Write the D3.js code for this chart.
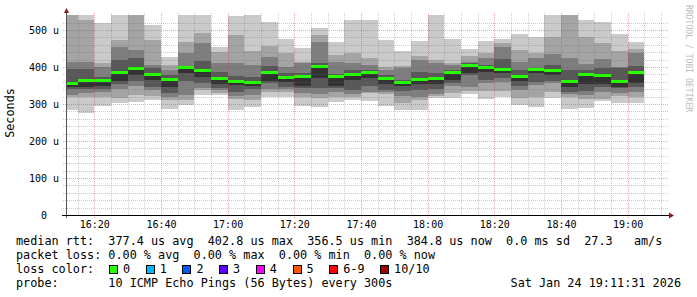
<!DOCTYPE html>
<html>
<head>
<meta charset="utf-8">
<script src="https://cdn.jsdelivr.net/npm/d3@7/dist/d3.min.js"></script>
<style>
  body { margin: 0; background: #fff; }
  svg text { font-family: "DejaVu Sans Mono", monospace; white-space: pre; fill: #000; }
</style>
</head>
<body>
<div class="graph"></div>
<script>
// start of each 5 minute bin
var binStarts = ["16:10","16:15","16:20","16:25","16:30","16:35","16:40","16:45","16:50","16:55",
  "17:00","17:05","17:10","17:15","17:20","17:25","17:30","17:35","17:40","17:45","17:50","17:55",
  "18:00","18:05","18:10","18:15","18:20","18:25","18:30","18:35","18:40","18:45","18:50","18:55",
  "19:00"];

// median rtt per bin (us)
var medians = [356.5, 363.5, 362.2, 385.7, 396.5, 378.4, 365.7, 398.1, 390.5, 368.9,
  361.6, 358.6, 385.9, 372.2, 373.0, 401.9, 373.8, 378.4, 383.8, 368.4, 358.6, 366.2,
  369.5, 385.9, 402.8, 399.2, 393.2, 373.0, 391.9, 389.2, 360.0, 379.2, 376.2, 361.6,
  384.8];

// the 10 sorted pings of each bin (us), used for the smoke
var smoke = [
  [283.8, 319.7, 324.3, 339.7, 345.1, 360.3, 394.6, 414.3, 550, 560],
  [276.5, 319.7, 329.7, 340.5, 345.1, 367.6, 394.6, 414.3, 527.0, 560],
  [294.6, 319.7, 332.4, 339.7, 348.6, 364.9, 372.2, 400.8, 410.0, 518.1],
  [302.7, 316.2, 340.5, 354.1, 363.0, 389.2, 418.9, 454.9, 473.0, 560],
  [306.2, 324.3, 348.6, 363.0, 378.4, 399.2, 423.5, 445.9, 550, 560],
  [310.8, 321.6, 337.8, 345.1, 364.9, 379.7, 396.5, 405.4, 473.0, 513.5],
  [287.3, 310.8, 318.9, 330.5, 345.1, 368.9, 378.4, 391.9, 405.4, 427.8],
  [298.1, 310.8, 324.3, 363.0, 384.6, 400.0, 402.7, 437.0, 468.4, 560],
  [324.3, 337.8, 343.2, 355.9, 373.8, 393.2, 416.2, 464.1, 491.1, 560],
  [324.3, 330.5, 337.8, 343.2, 354.1, 373.0, 386.5, 410.0, 441.4, 454.9],
  [283.8, 313.5, 321.6, 333.2, 351.4, 364.9, 375.7, 410.0, 486.5, 537.8],
  [292.7, 310.8, 324.3, 340.5, 348.6, 363.0, 373.8, 405.4, 443.2, 560],
  [319.7, 332.4, 339.7, 355.9, 363.0, 389.2, 402.7, 427.8, 456.8, 520.8],
  [319.7, 332.4, 340.5, 346.8, 360.3, 374.3, 383.8, 400.8, 437.0, 474.9],
  [294.6, 319.7, 329.7, 343.2, 348.6, 375.7, 383.0, 410.0, 414.3, 450.5],
  [291.1, 315.4, 327.0, 343.2, 369.5, 404.1, 410.0, 468.4, 486.5, 505.4],
  [306.2, 318.9, 332.4, 342.4, 348.6, 377.0, 381.1, 414.3, 432.4, 468.4],
  [310.8, 319.7, 327.0, 337.8, 364.9, 381.1, 391.9, 410.8, 437.0, 527.0],
  [308.9, 328.9, 333.2, 348.6, 369.5, 386.5, 391.9, 405.4, 423.5, 527.0],
  [294.6, 327.0, 332.4, 337.8, 354.1, 371.1, 378.4, 391.9, 400.8, 473.0],
  [283.8, 302.7, 321.6, 335.1, 348.6, 361.4, 364.9, 396.5, 402.7, 444.1],
  [283.8, 309.5, 318.9, 337.8, 354.1, 369.5, 387.3, 418.9, 428.9, 470.3],
  [315.4, 321.6, 327.0, 339.7, 354.1, 373.0, 383.0, 410.0, 418.9, 560],
  [317.0, 328.9, 348.6, 355.9, 364.1, 387.8, 391.9, 405.4, 410.0, 475.7],
  [327.0, 335.1, 345.1, 378.4, 383.0, 405.4, 409.5, 414.3, 429.7, 447.8],
  [314.3, 335.1, 356.8, 364.9, 387.3, 401.4, 405.4, 423.5, 437.8, 471.1],
  [318.9, 333.8, 360.3, 369.5, 384.6, 396.5, 420.8, 453.2, 464.1, 475.7],
  [297.3, 315.4, 337.8, 348.6, 363.0, 375.7, 391.9, 414.3, 445.1, 489.2],
  [293.2, 319.7, 351.4, 359.5, 383.0, 394.6, 398.1, 423.5, 437.8, 481.1],
  [315.4, 333.2, 355.9, 363.0, 379.7, 391.9, 404.1, 435.1, 479.7, 560],
  [285.7, 318.9, 327.0, 333.2, 345.9, 363.0, 392.7, 424.3, 550, 560],
  [290.0, 312.2, 324.3, 335.1, 354.1, 382.4, 391.9, 407.3, 481.9, 527.0],
  [306.8, 313.5, 333.2, 345.9, 354.1, 379.7, 396.5, 420.8, 465.7, 520.8],
  [303.5, 321.6, 330.5, 342.4, 345.9, 364.9, 397.3, 400.8, 443.2, 489.2],
  [301.9, 319.7, 333.2, 345.9, 355.9, 387.3, 402.7, 437.0, 447.8, 468.4]
];

var yTicks = [0, 100, 200, 300, 400, 500];
var yTickLabels = ["0  ", "100 u", "200 u", "300 u", "400 u", "500 u"];

var lossLabels = ["0", "1", "2", "3", "4", "5", "6-9", "10/10"];
var lossColors = ["#26ff00", "#00b8ff", "#0059ff", "#5e00ff", "#ff00ff", "#ff5500", "#ff0000", "#a10000"];

// smoke shades, outermost pair first
var smokeShades = ["#cacaca", "#a4a4a4", "#7e7e7e", "#585858", "#323232"];

var legendLines = [
  "median rtt:  377.4 us avg  402.8 us max  356.5 us min  384.8 us now  0.0 ms sd  27.3   am/s",
  "packet loss: 0.00 % avg  0.00 % max  0.00 % min  0.00 % now",
  "loss color:",
  "probe:       10 ICMP Echo Pings (56 Bytes) every 300s"
];
var stamp = "Sat Jan 24 19:11:31 2026";

graph();

function graph() {
  var W = 697, H = 297;
  var plot = {left: 66, right: 666, top: 15, bottom: 215};
  var charW = 7.1;

  var svg = d3.select(".graph")
    .append("svg")
    .attr("width", W)
    .attr("height", H);

  svg.append("rect").attr("width", W).attr("height", H).attr("fill", "#fff");

  var parse = d3.timeParse("%Y-%m-%d %H:%M:%S");
  var day = "2026-01-24 ";
  var t0 = parse(day + "16:11:31"), t1 = parse(day + "19:11:31");

  var x = d3.scaleTime().domain([t0, t1]).range([plot.left, plot.right]);
  var y = d3.scaleLinear().domain([0, 540.5]).range([plot.bottom, plot.top]);

  var bins = binStarts.map(function(s, i) {
    var start = parse(day + s + ":00");
    return {start: start, end: d3.timeMinute.offset(start, 5), pings: smoke[i], median: medians[i]};
  });

  svg.append("clipPath").attr("id", "plotclip")
    .append("rect")
    .attr("x", plot.left).attr("y", plot.top)
    .attr("width", plot.right - plot.left).attr("height", plot.bottom - plot.top);

  var area = svg.append("g").attr("clip-path", "url(#plotclip)").attr("shape-rendering", "crispEdges");

  // smoke: band k spans ping k .. ping (9-k)
  smokeShades.forEach(function(shade, k) {
    area.selectAll(".smoke" + k)
      .data(bins)
      .enter()
      .append("rect")
      .attr("x", function(d) { return x(d.start); })
      .attr("width", function(d) { return x(d.end) - x(d.start); })
      .attr("y", function(d) { return y(d.pings[9 - k]); })
      .attr("height", function(d) { return y(d.pings[k]) - y(d.pings[9 - k]); })
      .attr("fill", shade);
  });

  // median line (0% loss colour)
  area.selectAll(".median")
    .data(bins)
    .enter()
    .append("rect")
    .attr("x", function(d) { return x(d.start); })
    .attr("width", function(d) { return x(d.end) - x(d.start); })
    .attr("y", function(d) { return Math.round(y(d.median) - 1.5); })
    .attr("height", 3)
    .attr("fill", lossColors[0]);

  // grid, drawn on top like rrdtool does
  var grid = svg.append("g").attr("shape-rendering", "crispEdges");
  var yMinor = d3.range(20, 540, 20).filter(function(v) { return v % 100 !== 0; });
  var yMajor = [100, 200, 300, 400, 500];
  var xMinor = d3.timeMinute.every(5).range(t0, t1).filter(function(t) { return t.getMinutes() % 20 !== 0; });
  var xMajor = d3.timeMinute.every(20).range(t0, t1);

  grid.selectAll(".hmin").data(yMinor).enter().append("line")
    .attr("x1", plot.left - 3).attr("x2", plot.right + 3)
    .attr("y1", function(d) { return Math.round(y(d)) + 0.5; })
    .attr("y2", function(d) { return Math.round(y(d)) + 0.5; })
    .attr("stroke", "rgba(110,110,110,0.35)").attr("stroke-dasharray", "1,1");
  grid.selectAll(".vmin").data(xMinor).enter().append("line")
    .attr("y1", plot.top - 2).attr("y2", plot.bottom + 2)
    .attr("x1", function(d) { return Math.round(x(d)) + 0.5; })
    .attr("x2", function(d) { return Math.round(x(d)) + 0.5; })
    .attr("stroke", "rgba(110,110,110,0.35)").attr("stroke-dasharray", "1,1");
  grid.selectAll(".hmaj").data(yMajor).enter().append("line")
    .attr("x1", plot.left - 3).attr("x2", plot.right + 3)
    .attr("y1", function(d) { return Math.round(y(d)) + 0.5; })
    .attr("y2", function(d) { return Math.round(y(d)) + 0.5; })
    .attr("stroke", "rgba(210,40,40,0.4)").attr("stroke-dasharray", "1,1");
  grid.selectAll(".vmaj").data(xMajor).enter().append("line")
    .attr("y1", plot.top - 2).attr("y2", plot.bottom + 3)
    .attr("x1", function(d) { return Math.round(x(d)) + 0.5; })
    .attr("x2", function(d) { return Math.round(x(d)) + 0.5; })
    .attr("stroke", "rgba(210,40,40,0.4)").attr("stroke-dasharray", "1,1");

  // axes lines and arrows
  svg.append("line")
    .attr("x1", plot.left + 0.5).attr("x2", plot.left + 0.5)
    .attr("y1", plot.bottom + 3).attr("y2", 11)
    .attr("stroke", "#555").attr("shape-rendering", "crispEdges");
  svg.append("line")
    .attr("x1", plot.left - 4).attr("x2", plot.right + 4)
    .attr("y1", plot.bottom + 0.5).attr("y2", plot.bottom + 0.5)
    .attr("stroke", "#000").attr("shape-rendering", "crispEdges");
  svg.append("path")
    .attr("d", "M" + (plot.left - 2) + ",13 L" + (plot.left + 0.5) + ",8 L" + (plot.left + 3) + ",13 Z")
    .attr("fill", "#8b1a1a");
  svg.append("path")
    .attr("d", "M" + (plot.right + 3) + "," + (plot.bottom - 2.5) + " L" + (plot.right + 8) + "," + (plot.bottom + 0.5) +
      " L" + (plot.right + 3) + "," + (plot.bottom + 3.5) + " Z")
    .attr("fill", "#8b1a1a");

  // tick labels
  var yAxis = svg.append("g")
    .attr("transform", "translate(" + plot.left + ",0)")
    .call(d3.axisLeft(y).tickValues(yTicks).tickSize(0).tickPadding(7)
      .tickFormat(function(d, i) { return yTickLabels[i]; }));
  yAxis.select(".domain").remove();
  yAxis.selectAll("text").style("font-size", "10px").style("font-family", "DejaVu Sans Mono");

  var xAxis = svg.append("g")
    .attr("transform", "translate(0," + plot.bottom + ")")
    .call(d3.axisBottom(x).tickValues(xMajor).tickSize(0).tickPadding(6)
      .tickFormat(d3.timeFormat("%H:%M")));
  xAxis.select(".domain").remove();
  xAxis.selectAll("text").style("font-size", "10px").style("font-family", "DejaVu Sans Mono");

  // vertical unit label
  svg.append("text")
    .attr("transform", "translate(10,113) rotate(-90)")
    .attr("text-anchor", "middle")
    .attr("dominant-baseline", "middle")
    .style("font-size", "11.8px")
    .text("Seconds");

  // watermark on the right
  svg.append("text")
    .attr("transform", "translate(688,5) rotate(90)")
    .attr("dominant-baseline", "middle")
    .style("font-size", "8.1px")
    .style("fill", "#bbb")
    .text("RRDTOOL / TOBI OETIKER");

  // legend lines
  var lineY = [241, 255, 269, 283];
  legendLines.forEach(function(txt, i) {
    svg.append("text")
      .attr("x", 16).attr("y", lineY[i])
      .attr("dominant-baseline", "middle")
      .style("font-size", "11.8px")
      .text(txt);
  });
  svg.append("text")
    .attr("x", 681).attr("y", lineY[3])
    .attr("text-anchor", "end")
    .attr("dominant-baseline", "middle")
    .style("font-size", "11.8px")
    .text(stamp);

  // loss colour swatches, each slot as wide as its label needs
  var swX = [];
  var pos = 109;
  lossLabels.forEach(function(l) {
    swX.push(pos);
    pos += 29.6 + charW * l.length;
  });

  var sw = svg.selectAll(".swatch")
    .data(lossLabels)
    .enter()
    .append("g")
    .attr("transform", function(d, i) { return "translate(" + swX[i] + "," + (lineY[2] - 4) + ")"; });
  sw.append("rect")
    .attr("x", 0.5).attr("y", 0.5)
    .attr("width", 8).attr("height", 8)
    .attr("fill", function(d, i) { return lossColors[i]; })
    .attr("stroke", "#000")
    .attr("shape-rendering", "crispEdges");
  sw.append("text")
    .attr("x", 14).attr("y", 4.5)
    .attr("dominant-baseline", "middle")
    .style("font-size", "11.8px")
    .text(function(d) { return d; });
}
</script>
</body>
</html>
